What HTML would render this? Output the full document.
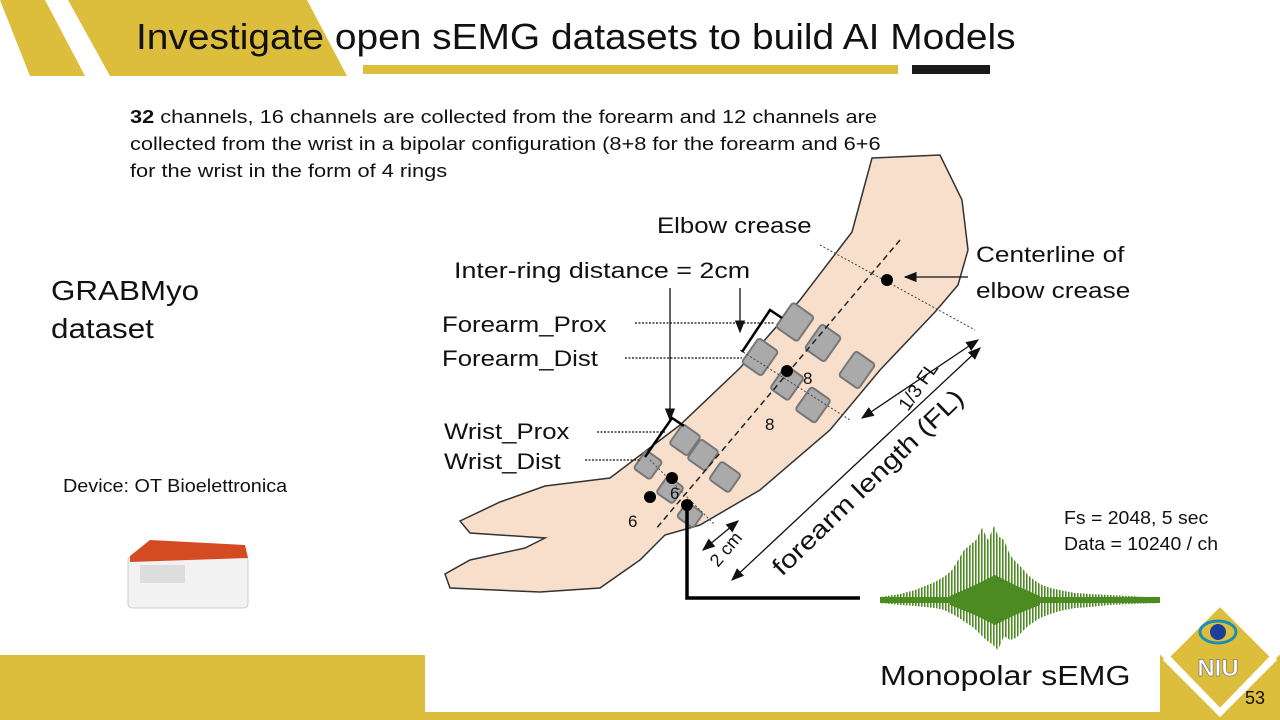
<!DOCTYPE html>
<html><head><meta charset="utf-8"><style>
body{margin:0;width:1280px;height:720px;position:relative;overflow:hidden;background:#fff;font-family:"Liberation Sans",sans-serif}
.t{position:absolute;white-space:nowrap;color:#111;transform-origin:0 0}
</style></head><body>
<svg width="1280" height="720" style="position:absolute;left:0;top:0" xmlns="http://www.w3.org/2000/svg">
<defs><marker id="a" markerWidth="10" markerHeight="10" refX="9" refY="5" orient="auto-start-reverse"><path d="M0,1 L10,5 L0,9 Z" fill="#111"/></marker>
<pattern id="p" width="3" height="200" patternUnits="userSpaceOnUse"><rect x="0" y="0" width="1.6" height="200" fill="#4C8A22"/></pattern></defs>
<polygon points="0,0 45,0 85,76 30,76" fill="#DCBE3C"/>
<polygon points="68,0 307,0 347,76 110,76" fill="#DCBE3C"/>
<rect x="363" y="65" width="535" height="9" fill="#DCBE3C"/>
<rect x="912" y="65" width="78" height="9" fill="#1a1a1a"/>
<rect x="0" y="655" width="1280" height="65" fill="#DCBE3C"/>
<rect x="425" y="590" width="735" height="122" fill="#fff"/>
<polygon points="1220,605 1275,660 1220,715 1165,660" fill="#DCBE3C" stroke="#fff" stroke-width="3"/>
<polyline points="1160,650 1220,712 1280,650" fill="none" stroke="#fff" stroke-width="6"/>
<ellipse cx="1218" cy="632" rx="18" ry="11" fill="none" stroke="#1a8fb5" stroke-width="3"/>
<circle cx="1218" cy="632" r="8" fill="#1b3f9b"/>
<text x="1218" y="676" font-family="Liberation Sans" font-weight="bold" font-size="24" fill="#fff" stroke="#777" stroke-width="0.7" text-anchor="middle">NIU</text>
<!-- arm -->
<path d="M872,158 L940,155 L962,200 L968,250 L958,285 L935,312 L880,370 L830,430 L760,490 L700,525 L665,535 L640,560 L600,588 L540,592 L450,588 L445,574 L470,560 L525,548 L545,538 L470,533 L460,521 L500,502 L545,486 L610,478 L680,425 L740,368 L800,300 L852,232 Z" fill="#F7DFCB" stroke="#333" stroke-width="1.5"/>
<g fill="#aaa" stroke="#777" stroke-width="2">
<rect x="782" y="307" width="26" height="30" rx="3" transform="rotate(35 795 322)"/>
<rect x="811" y="328" width="24" height="30" rx="3" transform="rotate(35 823 343)"/>
<rect x="845" y="355" width="24" height="30" rx="3" transform="rotate(35 857 370)"/>
<rect x="748" y="342" width="24" height="30" rx="3" transform="rotate(35 760 357)"/>
<rect x="776" y="369" width="22" height="28" rx="3" transform="rotate(35 787 383)"/>
<rect x="801" y="391" width="24" height="28" rx="3" transform="rotate(35 813 405)"/>
<rect x="674" y="428" width="22" height="24" rx="3" transform="rotate(35 685 440)"/>
<rect x="692" y="443" width="22" height="24" rx="3" transform="rotate(35 703 455)"/>
<rect x="713" y="466" width="24" height="22" rx="3" transform="rotate(35 725 477)"/>
<rect x="638" y="454" width="20" height="22" rx="3" transform="rotate(35 648 465)"/>
<rect x="660" y="480" width="20" height="20" rx="3" transform="rotate(35 670 490)"/>
<rect x="680" y="506" width="20" height="18" rx="3" transform="rotate(35 690 515)"/>
</g>
<line x1="900" y1="240" x2="655" y2="530" stroke="#222" stroke-width="1.5" stroke-dasharray="6,4"/>
<line x1="820" y1="245" x2="975" y2="330" stroke="#444" stroke-width="1" stroke-dasharray="2,2"/>
<line x1="740" y1="350" x2="850" y2="420" stroke="#444" stroke-width="1" stroke-dasharray="2,2"/>
<line x1="650" y1="460" x2="715" y2="525" stroke="#444" stroke-width="1" stroke-dasharray="2,2"/>
<circle cx="887" cy="280" r="6" fill="#000"/><circle cx="787" cy="371" r="6" fill="#000"/>
<circle cx="672" cy="478" r="6" fill="#000"/><circle cx="650" cy="497" r="6" fill="#000"/><circle cx="687" cy="505" r="6" fill="#000"/>
<g stroke="#111" stroke-width="1.3" fill="none">
<line x1="968" y1="277" x2="905" y2="277" marker-end="url(#a)"/>
<line x1="740" y1="288" x2="740" y2="332" marker-end="url(#a)"/><line x1="670" y1="288" x2="670" y2="420" marker-end="url(#a)"/>
<line x1="635" y1="323" x2="775" y2="323" stroke-dasharray="2,1.5"/>
<line x1="625" y1="358" x2="742" y2="358" stroke-dasharray="2,1.5"/>
<line x1="597" y1="432" x2="665" y2="432" stroke-dasharray="2,1.5"/>
<line x1="585" y1="460" x2="640" y2="460" stroke-dasharray="2,1.5"/>
<line x1="978" y1="340" x2="862" y2="418" marker-start="url(#a)" marker-end="url(#a)"/>
<line x1="980" y1="348" x2="732" y2="580" marker-start="url(#a)" marker-end="url(#a)"/>
<line x1="703" y1="550" x2="738" y2="521" marker-start="url(#a)" marker-end="url(#a)"/>
</g>
<path d="M742,352 L770,310 L782,318 M645,457 L672,418 L684,426" stroke="#000" stroke-width="2.5" fill="none"/>
<path d="M687,505 L687,598 L860,598" stroke="#000" stroke-width="3.5" fill="none"/>
<polygon fill="url(#p)" points="880,597 900,594 915,590 925,586 935,582 945,576 952,570 958,560 964,550 970,545 976,540 982,528 988,540 994,526 998,536 1004,540 1010,555 1016,562 1022,568 1028,575 1034,580 1040,584 1050,588 1060,590 1075,593 1090,594 1110,595 1130,596 1160,598 1160,603 1130,604 1110,605 1090,607 1075,608 1060,611 1050,614 1040,618 1034,622 1028,626 1022,632 1016,638 1010,640 1004,636 998,650 992,644 986,640 980,634 974,628 968,624 962,620 956,616 950,613 944,610 935,608 925,607 915,606 900,605 880,603"/>
<rect x="880" y="597" width="280" height="6" fill="#4C8A22"/>
<polygon fill="#4C8A22" points="950,596 975,585 995,575 1015,585 1040,596 1040,605 1015,615 995,625 975,615 950,605"/>
<g font-family="Liberation Sans" font-size="17" fill="#111">
<text x="803" y="384">8</text><text x="765" y="430">8</text><text x="670" y="499">6</text><text x="628" y="527">6</text>
</g>
<text transform="translate(908,412) rotate(-55)" font-family="Liberation Sans" font-size="19" fill="#111">1/3 FL</text>
<text transform="translate(782,577) rotate(-44)" font-family="Liberation Sans" font-size="25" fill="#111" textLength="255" lengthAdjust="spacingAndGlyphs">forearm length (FL)</text>
<text transform="translate(718,568) rotate(-50)" font-family="Liberation Sans" font-size="18" fill="#111">2 cm</text>
<!-- device -->
<rect x="128" y="556" width="120" height="52" rx="4" fill="#f2f2f2" stroke="#ccc"/>
<polygon points="130,556 150,540 245,545 248,558 130,562" fill="#d44a22"/>
<rect x="140" y="565" width="45" height="18" fill="#ddd"/>
</svg>
<div class="t" style="left:136px;top:16px;font-size:36px;transform:scaleX(1.08)">Investigate open sEMG datasets to build AI Models</div>
<div class="t" style="left:130px;top:104px;font-size:18px;line-height:27px;transform:scaleX(1.21)">
<b>32</b> channels, 16 channels are collected from the forearm and 12 channels are<br>collected from the wrist in a bipolar configuration (8+8 for the forearm and 6+6<br>for the wrist in the form of 4 rings</div>
<div class="t" style="left:51px;top:272px;font-size:28px;line-height:38px;transform:scaleX(1.12)">GRABMyo<br>dataset</div>
<div class="t" style="left:63px;top:476px;font-size:18px;transform:scaleX(1.1)">Device: OT Bioelettronica</div>
<div class="t" style="left:657px;top:213px;font-size:22px;transform:scaleX(1.17)">Elbow crease</div>
<div class="t" style="left:454px;top:258px;font-size:22px;transform:scaleX(1.22)">Inter-ring distance = 2cm</div>
<div class="t" style="left:976px;top:237px;font-size:22px;line-height:36px;transform:scaleX(1.19)">Centerline of<br>elbow crease</div>
<div class="t" style="left:442px;top:312px;font-size:22px;transform:scaleX(1.17)">Forearm_Prox</div>
<div class="t" style="left:442px;top:346px;font-size:22px;transform:scaleX(1.17)">Forearm_Dist</div>
<div class="t" style="left:444px;top:419px;font-size:22px;transform:scaleX(1.17)">Wrist_Prox</div>
<div class="t" style="left:444px;top:449px;font-size:22px;transform:scaleX(1.17)">Wrist_Dist</div>
<div class="t" style="left:1064px;top:505px;font-size:18px;line-height:26px;transform:scaleX(1.08)">Fs = 2048, 5 sec<br>Data = 10240 / ch</div>
<div class="t" style="left:880px;top:660px;font-size:28px;transform:scaleX(1.15)">Monopolar sEMG</div>
<div class="t" style="left:1245px;top:688px;font-size:18px">53</div>
</body></html>
